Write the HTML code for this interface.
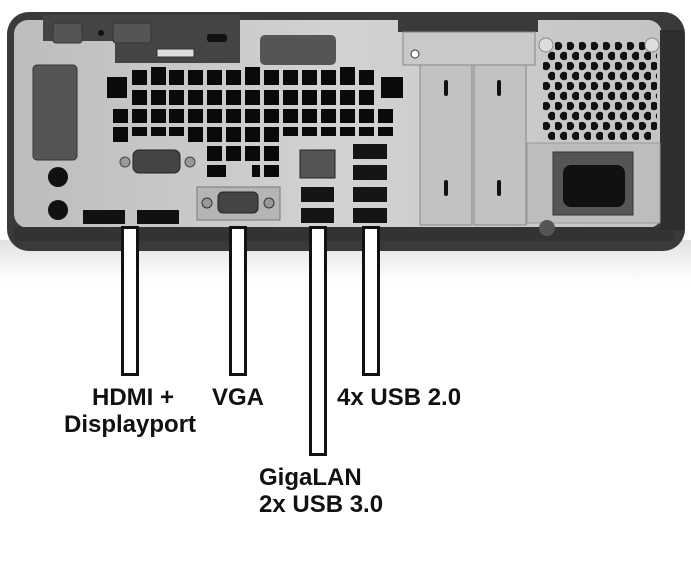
<!DOCTYPE html>
<html><head><meta charset="utf-8"><style>
html,body{margin:0;padding:0;background:#fff;}
body{width:691px;height:581px;overflow:hidden;position:relative;font-family:"Liberation Sans",sans-serif;}
svg{position:absolute;left:0;top:0;}
.l{position:absolute;font-weight:bold;font-size:24px;color:#111;white-space:nowrap;line-height:1;}
</style></head><body>
<svg width="691" height="581" viewBox="0 0 691 581">
<defs>
<linearGradient id="sh" x1="0" y1="0" x2="0" y2="1"><stop offset="0" stop-color="#e2e2e2"/><stop offset="1" stop-color="#fff"/></linearGradient>
<linearGradient id="pan" x1="0" y1="0" x2="1" y2="0"><stop offset="0" stop-color="#bdbdbd"/><stop offset="0.5" stop-color="#d2d2d2"/><stop offset="1" stop-color="#c4c4c4"/></linearGradient>
<pattern id="hex" x="543" y="42" width="12" height="20" patternUnits="userSpaceOnUse">
<circle cx="3" cy="4" r="4.2" fill="#111"/><circle cx="9" cy="14" r="4.2" fill="#111"/></pattern>
</defs>
<rect x="0" y="240" width="691" height="42" fill="url(#sh)"/>
<!-- chassis -->
<rect x="7" y="12" width="678" height="239" rx="22" fill="#3a3a3a"/>
<rect x="14" y="20" width="648" height="208" rx="14" fill="url(#pan)"/>
<rect x="14" y="227" width="660" height="14" fill="#333"/>
<rect x="660" y="30" width="24" height="200" fill="#2e2e2e"/>
<!-- top dark region -->
<rect x="43" y="15" width="197" height="26" fill="#444"/>
<rect x="115" y="41" width="125" height="22" fill="#444"/>
<rect x="53" y="23" width="29" height="20" rx="3" fill="#555" stroke="#333"/>
<rect x="113" y="23" width="38" height="20" rx="3" fill="#555" stroke="#333"/>
<circle cx="101" cy="33" r="3" fill="#111"/>
<rect x="207" y="34" width="20" height="8" rx="3" fill="#111"/>
<rect x="157" y="49" width="37" height="8" fill="#ddd" stroke="#333"/>
<rect x="260" y="35" width="76" height="30" rx="5" fill="#555"/>
<!-- left block -->
<rect x="33" y="65" width="44" height="95" rx="4" fill="#555" stroke="#333"/>
<!-- vents -->
<g fill="#0a0a0a">
<rect x="107" y="77" width="20" height="21"/>
<rect x="132" y="70" width="15" height="15"/><rect x="151" y="67" width="15" height="18"/><rect x="169" y="70" width="15" height="15"/><rect x="188" y="70" width="15" height="15"/><rect x="207" y="70" width="15" height="15"/><rect x="226" y="70" width="15" height="15"/><rect x="245" y="67" width="15" height="18"/><rect x="264" y="70" width="15" height="15"/><rect x="283" y="70" width="15" height="15"/><rect x="302" y="70" width="15" height="15"/><rect x="321" y="70" width="15" height="15"/><rect x="340" y="67" width="15" height="18"/><rect x="359" y="70" width="15" height="15"/><rect x="381" y="77" width="22" height="21"/>
</g>
<g fill="#0a0a0a">
<rect x="132" y="90" width="15" height="15"/><rect x="151" y="90" width="15" height="15"/><rect x="169" y="90" width="15" height="15"/><rect x="188" y="90" width="15" height="15"/><rect x="207" y="90" width="15" height="15"/><rect x="226" y="90" width="15" height="15"/><rect x="245" y="90" width="15" height="15"/><rect x="264" y="90" width="15" height="15"/><rect x="283" y="90" width="15" height="15"/><rect x="302" y="90" width="15" height="15"/><rect x="321" y="90" width="15" height="15"/><rect x="340" y="90" width="15" height="15"/><rect x="359" y="90" width="15" height="15"/>
</g>
<g fill="#0a0a0a">
<rect x="113" y="109" width="15" height="14"/><rect x="132" y="109" width="15" height="14"/><rect x="151" y="109" width="15" height="14"/><rect x="169" y="109" width="15" height="14"/><rect x="188" y="109" width="15" height="14"/><rect x="207" y="109" width="15" height="14"/><rect x="226" y="109" width="15" height="14"/><rect x="245" y="109" width="15" height="14"/><rect x="264" y="109" width="15" height="14"/><rect x="283" y="109" width="15" height="14"/><rect x="302" y="109" width="15" height="14"/><rect x="321" y="109" width="15" height="14"/><rect x="340" y="109" width="15" height="14"/><rect x="359" y="109" width="15" height="14"/><rect x="378" y="109" width="15" height="14"/>
<rect x="113" y="127" width="15" height="15"/><rect x="132" y="127" width="15" height="9"/><rect x="151" y="127" width="15" height="9"/><rect x="169" y="127" width="15" height="9"/><rect x="188" y="127" width="15" height="15"/><rect x="207" y="127" width="15" height="15"/><rect x="226" y="127" width="15" height="15"/><rect x="245" y="127" width="15" height="15"/><rect x="264" y="127" width="15" height="15"/><rect x="283" y="127" width="15" height="9"/><rect x="302" y="127" width="15" height="9"/><rect x="321" y="127" width="15" height="9"/><rect x="340" y="127" width="15" height="9"/><rect x="359" y="127" width="15" height="9"/><rect x="378" y="127" width="15" height="9"/>
<rect x="207" y="146" width="15" height="15"/><rect x="226" y="146" width="15" height="15"/><rect x="245" y="146" width="15" height="15"/><rect x="264" y="146" width="15" height="15"/>
<rect x="207" y="165" width="19" height="12"/><rect x="252" y="165" width="8" height="12"/><rect x="264" y="165" width="15" height="12"/>
</g>
<!-- serial -->
<circle cx="125" cy="162" r="5" fill="#999" stroke="#444"/><circle cx="190" cy="162" r="5" fill="#999" stroke="#444"/>
<rect x="133" y="150" width="47" height="23" rx="6" fill="#444" stroke="#222"/>
<!-- audio -->
<circle cx="58" cy="177" r="10" fill="#111"/><circle cx="58" cy="210" r="10" fill="#111"/>
<!-- DP -->
<rect x="83" y="210" width="42" height="14" fill="#111"/><rect x="137" y="210" width="42" height="14" fill="#111"/>
<!-- VGA -->
<rect x="197" y="187" width="83" height="33" fill="#b5b5b5" stroke="#777"/>
<circle cx="207" cy="203" r="5" fill="#999" stroke="#333"/><circle cx="269" cy="203" r="5" fill="#999" stroke="#333"/>
<rect x="218" y="192" width="40" height="21" rx="5" fill="#444" stroke="#222"/>
<!-- RJ45 / USB -->
<rect x="300" y="150" width="35" height="28" fill="#555" stroke="#222"/>
<g fill="#151515"><rect x="301" y="187" width="33" height="15"/><rect x="301" y="208" width="33" height="15"/>
<rect x="353" y="144" width="34" height="15"/><rect x="353" y="165" width="34" height="15"/><rect x="353" y="187" width="34" height="15"/><rect x="353" y="208" width="34" height="15"/></g>
<!-- PCI -->
<rect x="398" y="20" width="140" height="12" fill="#3a3a3a"/>
<rect x="403" y="32" width="132" height="33" fill="#c9c9c9" stroke="#888"/>
<circle cx="415" cy="54" r="4" fill="#fff" stroke="#333"/>
<rect x="420" y="65" width="52" height="160" fill="#c2c2c2" stroke="#888"/>
<rect x="474" y="65" width="52" height="160" fill="#c2c2c2" stroke="#888"/>
<rect x="444" y="80" width="4" height="16" rx="2" fill="#111"/><rect x="497" y="80" width="4" height="16" rx="2" fill="#111"/>
<rect x="444" y="180" width="4" height="16" rx="2" fill="#111"/><rect x="497" y="180" width="4" height="16" rx="2" fill="#111"/>
<!-- PSU -->
<rect x="543" y="42" width="114" height="98" rx="10" fill="url(#hex)"/>
<circle cx="546" cy="45" r="7" fill="#ddd" stroke="#888"/><circle cx="652" cy="45" r="7" fill="#ddd" stroke="#888"/>
<rect x="527" y="143" width="133" height="80" fill="#bdbdbd" stroke="#999"/>
<rect x="553" y="152" width="80" height="63" fill="#555" stroke="#333"/>
<rect x="563" y="165" width="62" height="42" rx="8" fill="#111"/>
<circle cx="547" cy="228" r="8" fill="#555"/>
<!-- bars -->
<g fill="#fff" stroke="#111" stroke-width="3">
<rect x="122.5" y="227.5" width="15" height="147"/>
<rect x="230.5" y="227.5" width="15" height="147"/>
<rect x="310.5" y="227.5" width="15" height="227"/>
<rect x="363.5" y="227.5" width="15" height="147"/>
</g>
</svg>
<div class="l" style="left:92px;top:386px;">HDMI +</div>
<div class="l" style="left:64px;top:413px;">Displayport</div>
<div class="l" style="left:212px;top:386px;">VGA</div>
<div class="l" style="left:337px;top:386px;">4x USB 2.0</div>
<div class="l" style="left:259px;top:466px;">GigaLAN</div>
<div class="l" style="left:259px;top:493px;">2x USB 3.0</div>
</body></html>
